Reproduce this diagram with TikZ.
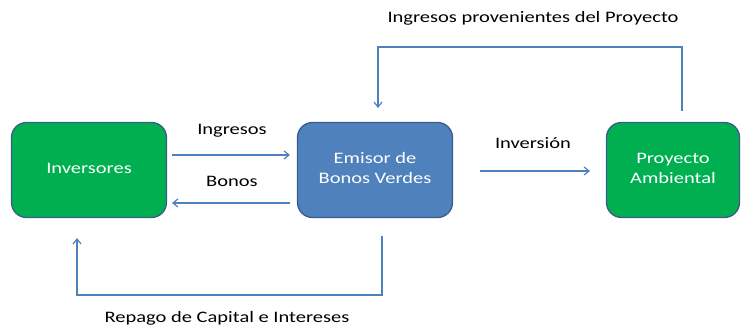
\documentclass[tikz,border=0pt]{standalone}
\usepackage{fontspec}
\setmainfont[FakeStretch=1.28]{Carlito}
\usetikzlibrary{arrows.meta}
\definecolor{boxgreen}{HTML}{00B050}
\definecolor{boxblue}{HTML}{4F81BD}
\definecolor{boxedge}{HTML}{385D8A}
\definecolor{arrowblue}{HTML}{4F81BD}
\newcommand{\boxtext}[1]{\raisebox{-4pt}{\begin{tabular}{@{}c@{}}#1\end{tabular}}}
\tikzset{
  gbox/.style={draw=boxedge, line width=1.3pt, fill=boxgreen, rounded corners=15pt,
    text=white, align=center, inner sep=0pt, font=\fontsize{16}{20}\selectfont},
  bbox/.style={gbox, fill=boxblue},
  flow/.style={draw=arrowblue, line width=1.2pt, -{Straight Barb[length=5pt,width=8pt]}},
  lbl/.style={font=\fontsize{16}{20}\selectfont, text=black, inner sep=0pt}
}
\begin{document}
\begin{tikzpicture}[x=1pt,y=-1pt]
\useasboundingbox (0,0) rectangle (748,326);
\node[gbox, minimum width=155pt, minimum height=95pt] (inv) at (89,170) {\boxtext{Inversores}};
\node[bbox, minimum width=155pt, minimum height=95pt] (emi) at (375,170) {\boxtext{Emisor de\\Bonos Verdes}};
\node[gbox, minimum width=133pt, minimum height=95pt] (pro) at (673,170) {\boxtext{Proyecto\\Ambiental}};
% free ends
\coordinate (a1) at (172,155); \coordinate (a2) at (290,155);
\coordinate (b1) at (290,203); \coordinate (b2) at (172,203);
\coordinate (c1) at (480,171); \coordinate (c2) at (590,171);
\coordinate (t1) at (682,111); \coordinate (t2) at (682,47);
\coordinate (t3) at (378,47); \coordinate (t4) at (378,108);
\coordinate (r1) at (382,236); \coordinate (r2) at (382,295);
\coordinate (r3) at (77,295); \coordinate (r4) at (77,238);
\draw[flow] (a1) -- (a2);
\draw[flow] (b1) -- (b2);
\draw[flow] (c1) -- (c2);
\draw[flow] (t1) -- (t2) -- (t3) -- (t4);
\draw[flow] (r1) -- (r2) -- (r3) -- (r4);
\node[lbl] (l1) at (232,131) {Ingresos};
\node[lbl] (l2) at (232,181) {Bonos};
\node[lbl] (l3) at (533,143) {Inversión};
\node[lbl] (l4) at (533,18) {Ingresos provenientes del Proyecto};
\node[lbl] (l5) at (227,318) {Repago de Capital e Intereses};
\end{tikzpicture}
\end{document}
